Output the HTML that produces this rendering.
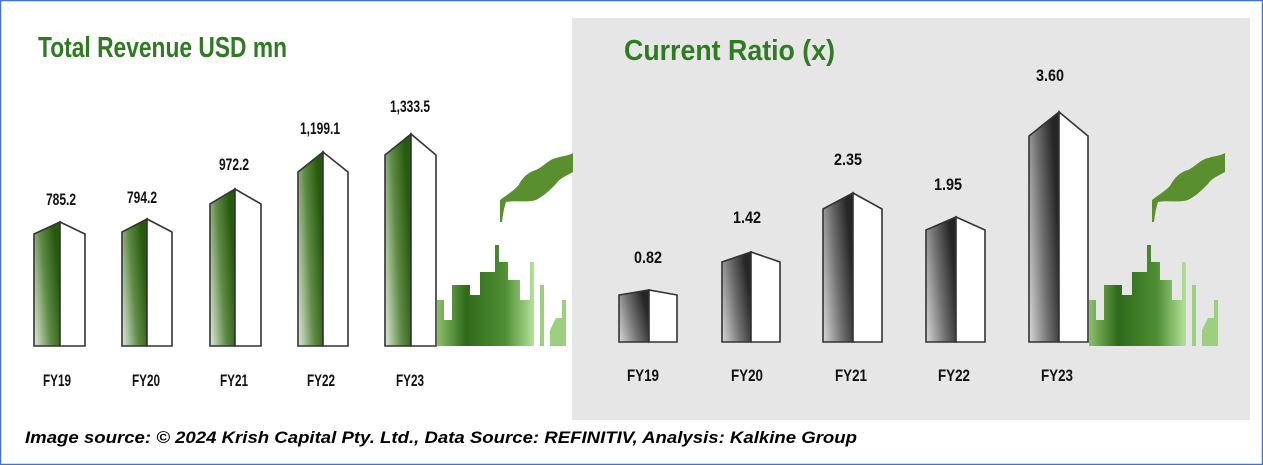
<!DOCTYPE html>
<html><head><meta charset="utf-8"><style>
html,body{margin:0;padding:0;background:#fff;}
svg{display:block;}
text{font-family:"Liberation Sans",sans-serif;font-weight:bold;}
</style></head><body>
<svg width="1263" height="465" viewBox="0 0 1263 465" xmlns="http://www.w3.org/2000/svg">
<defs>
<linearGradient id="g" x1="0" y1="1" x2="1" y2="0.55">
<stop offset="0" stop-color="#dfeadb"/><stop offset="0.55" stop-color="#5e8a45"/><stop offset="1" stop-color="#275a0c"/>
</linearGradient>
<linearGradient id="k" x1="0" y1="1" x2="1" y2="0.55">
<stop offset="0" stop-color="#d8d8d8"/><stop offset="0.55" stop-color="#707070"/><stop offset="1" stop-color="#262626"/>
</linearGradient>
<linearGradient id="f" x1="0" y1="0" x2="1" y2="0">
<stop offset="0" stop-color="#8cc06a"/><stop offset="0.3" stop-color="#2f6a1a"/><stop offset="0.7" stop-color="#4f8e34"/><stop offset="1" stop-color="#b4e29a"/>
</linearGradient>
</defs>
<rect x="0.5" y="0.5" width="1262" height="464" fill="#fff" stroke="#4472c4" stroke-width="1.5"/>
<rect x="572" y="18" width="678" height="402" fill="#e6e6e6"/>

<g id="fac1">
<path d="M437,346 L437,300 L444,300 L444,320 L452,320 L452,285 L470,285 L470,295 L480,295 L480,272 L495,272 L495,245 L499,245 L499,262 L508,262 L508,280 L520,280 L520,300 L530,300 L530,262 L534,262 L534,346 Z" fill="url(#f)"/>
<path d="M540,346 L540,285 L544,285 L544,346 Z M550,346 L550,330 L556,318 L562,318 L562,300 L566,300 L566,346 Z" fill="#9bd07e"/>
<path d="M500,222 L500,200 C505,196 512,192 518,186 C522,178 528,172 536,170 C544,166 548,160 556,158 C562,156 568,156 573,153 L573,172 C566,176 560,178 556,184 C550,190 544,196 536,200 C526,203 516,200 506,202 C504,208 503,214 502,222 Z" fill="#5a8f30"/>
</g>
<g transform="translate(652,0)"><use href="#fac1"/></g>

<text x="38" y="57" font-size="29" fill="#2f7a22" textLength="249" lengthAdjust="spacingAndGlyphs">Total Revenue USD mn</text>
<text x="624" y="60" font-size="29" fill="#2f7a22" textLength="211" lengthAdjust="spacingAndGlyphs">Current Ratio (x)</text>

<g stroke="#333" stroke-width="1.6" stroke-linejoin="miter">
<path d="M34,346 L34,234 L60,222 L60,346 Z" fill="url(#g)"/><path d="M60,346 L60,222 L85,234 L85,346 Z" fill="#fff"/>
<path d="M122,346 L122,232 L147,219 L147,346 Z" fill="url(#g)"/><path d="M147,346 L147,219 L172,232 L172,346 Z" fill="#fff"/>
<path d="M210,346 L210,204 L235,189 L235,346 Z" fill="url(#g)"/><path d="M235,346 L235,189 L261,204 L261,346 Z" fill="#fff"/>
<path d="M298,346 L298,172 L323,152 L323,346 Z" fill="url(#g)"/><path d="M323,346 L323,152 L348,172 L348,346 Z" fill="#fff"/>
<path d="M385,346 L385,155 L411,134 L411,346 Z" fill="url(#g)"/><path d="M411,346 L411,134 L436,155 L436,346 Z" fill="#fff"/>

<path d="M619,342 L619,295 L649,290 L649,342 Z" fill="url(#k)"/><path d="M649,342 L649,290 L677,295 L677,342 Z" fill="#fff"/>
<path d="M722,342 L722,262 L751,252 L751,342 Z" fill="url(#k)"/><path d="M751,342 L751,252 L780,262 L780,342 Z" fill="#fff"/>
<path d="M823,342 L823,209 L853,193 L853,342 Z" fill="url(#k)"/><path d="M853,342 L853,193 L882,209 L882,342 Z" fill="#fff"/>
<path d="M926,342 L926,230 L956,217 L956,342 Z" fill="url(#k)"/><path d="M956,342 L956,217 L985,230 L985,342 Z" fill="#fff"/>
<path d="M1029,342 L1029,136 L1059,112 L1059,342 Z" fill="url(#k)"/><path d="M1059,342 L1059,112 L1088,136 L1088,342 Z" fill="#fff"/>
</g>

<g font-size="17" fill="#111" text-anchor="middle">
<text x="61" y="205" textLength="30" lengthAdjust="spacingAndGlyphs">785.2</text>
<text x="142" y="203" textLength="30" lengthAdjust="spacingAndGlyphs">794.2</text>
<text x="234" y="170" textLength="30" lengthAdjust="spacingAndGlyphs">972.2</text>
<text x="320" y="134" textLength="40" lengthAdjust="spacingAndGlyphs">1,199.1</text>
<text x="410" y="112" textLength="40" lengthAdjust="spacingAndGlyphs">1,333.5</text>
<text x="57" y="386" textLength="28" lengthAdjust="spacingAndGlyphs">FY19</text>
<text x="146" y="386" textLength="28" lengthAdjust="spacingAndGlyphs">FY20</text>
<text x="234" y="386" textLength="28" lengthAdjust="spacingAndGlyphs">FY21</text>
<text x="321" y="386" textLength="28" lengthAdjust="spacingAndGlyphs">FY22</text>
<text x="410" y="386" textLength="28" lengthAdjust="spacingAndGlyphs">FY23</text>

<text x="648" y="263" textLength="28" lengthAdjust="spacingAndGlyphs">0.82</text>
<text x="747" y="223" textLength="28" lengthAdjust="spacingAndGlyphs">1.42</text>
<text x="848" y="165" textLength="28" lengthAdjust="spacingAndGlyphs">2.35</text>
<text x="948" y="190" textLength="28" lengthAdjust="spacingAndGlyphs">1.95</text>
<text x="1050" y="81" textLength="28" lengthAdjust="spacingAndGlyphs">3.60</text>
<text x="643" y="381" textLength="32" lengthAdjust="spacingAndGlyphs">FY19</text>
<text x="747" y="381" textLength="32" lengthAdjust="spacingAndGlyphs">FY20</text>
<text x="851" y="381" textLength="32" lengthAdjust="spacingAndGlyphs">FY21</text>
<text x="954" y="381" textLength="32" lengthAdjust="spacingAndGlyphs">FY22</text>
<text x="1057" y="381" textLength="32" lengthAdjust="spacingAndGlyphs">FY23</text>
</g>

<text x="25" y="443" font-size="17" font-style="italic" fill="#000" textLength="832" lengthAdjust="spacingAndGlyphs">Image source: © 2024 Krish Capital Pty. Ltd., Data Source: REFINITIV, Analysis: Kalkine Group</text>
</svg>
</body></html>
